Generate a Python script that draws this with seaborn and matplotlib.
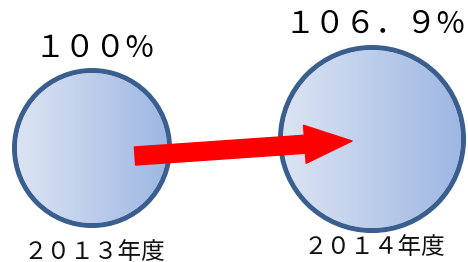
import numpy as np
import pandas as pd
import matplotlib.pyplot as plt
import seaborn as sns
from matplotlib.patches import Circle
from matplotlib.transforms import IdentityTransform
from matplotlib.colors import LinearSegmentedColormap

# Data
years = ["２０１３年度", "２０１４年度"]
ratios = [100, 106.9]
ratio_labels = ["１００%", "１０６．９%"]

df = pd.DataFrame({"pos": [0, 1], "ratio": ratios, "year": years})

sns.set_style("white")
plt.rcParams['font.family'] = ['Noto Sans CJK JP', 'DejaVu Sans']

DPI = 100
fig = plt.figure(figsize=(4.68, 2.62), dpi=DPI)
ax = fig.add_axes([0, 0, 1, 1])
ax.set_xlim(-0.3286, 1.3429)
ax.set_ylim(12.6, 213.5)
ax.axis('off')

# Circles: area scaled by ratio
sizes = (12455, 17370)
edge_lw = 3.6
sns.scatterplot(data=df, x="pos", y="ratio", size="ratio", sizes=sizes,
                color="#b8c9ea", edgecolor="#3a5e8d", linewidth=edge_lw,
                legend=False, ax=ax, zorder=2)

# Left-to-right gradient fill clipped inside each circle
fig.canvas.draw()
cmap = LinearSegmentedColormap.from_list("fill", ["#dce4f3", "#9eb7e3"])
grad = np.linspace(0, 1, 256).reshape(1, -1)
s_min, s_max = min(ratios), max(ratios)
for x, r in zip(df["pos"], df["ratio"]):
    s = sizes[0] + (sizes[1] - sizes[0]) * (r - s_min) / (s_max - s_min)
    r_px = (np.sqrt(s) / 2 - edge_lw / 2) * DPI / 72
    cx, cy = ax.transData.transform((x, r))
    (x0, y0) = ax.transData.inverted().transform((cx - r_px, cy - r_px))
    (x1, y1) = ax.transData.inverted().transform((cx + r_px, cy + r_px))
    im = ax.imshow(grad, cmap=cmap, extent=(x0, x1, y0, y1), aspect='auto',
                   zorder=3, interpolation='bilinear')
    im.set_clip_path(Circle((cx, cy), r_px, transform=IdentityTransform()))
    ax.set_xlim(-0.3286, 1.3429)
    ax.set_ylim(12.6, 213.5)

# Arrow from 2013 to 2014
ax.annotate("", xy=(0.9286, 105.37), xytext=(0.1536, 93.87),
            arrowprops=dict(arrowstyle="simple,head_length=34,head_width=27.4,tail_width=13",
                            color="#ff0000", shrinkA=0, shrinkB=0, mutation_scale=1),
            zorder=5)

# Labels
top_offsets = [71.6, 82.4]
for x, r, lab, off in zip(df["pos"], df["ratio"], ratio_labels, top_offsets):
    ax.annotate(lab, xy=(x, r), xytext=(2, off), textcoords="offset points",
                ha="center", va="center", fontsize=22, color="black")

bottom_y = [0.038, 0.055]
for x, lab, by in zip(df["pos"], years, bottom_y):
    ax.text(x + 0.01, by, lab, transform=ax.get_xaxis_transform(),
            ha="center", va="center", fontsize=17, color="#111111")

fig.savefig("out.png", dpi=DPI)
